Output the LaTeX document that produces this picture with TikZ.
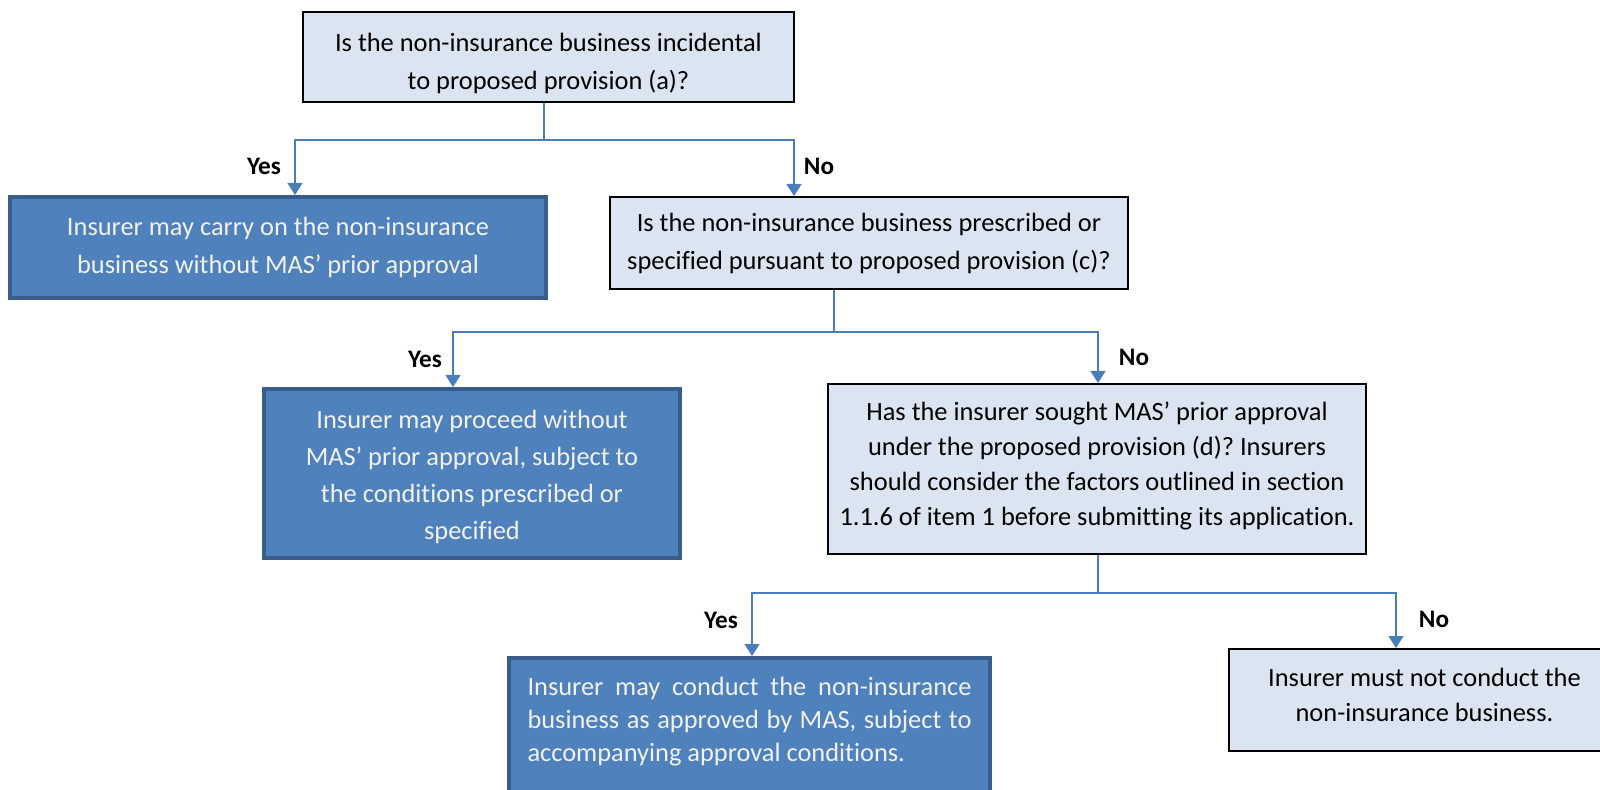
\documentclass[tikz,border=0pt]{standalone}
\usepackage{fontspec}
\setmainfont{Carlito}[Ligatures=NoCommon]
\frenchspacing
\usetikzlibrary{arrows.meta}
\definecolor{qfill}{HTML}{DBE5F1}
\definecolor{ofill}{HTML}{4F81BD}
\definecolor{oline}{HTML}{385D8A}
\definecolor{link}{HTML}{4A7EBB}
\definecolor{otext}{HTML}{F2F2F2}
\tikzset{query/.style={draw=black, line width=1pt, fill=qfill, align=center, inner sep=0pt},
         outcome/.style={draw=oline, line width=2pt, fill=ofill, text=otext, align=center, inner sep=0pt},
         wire/.style={draw=link, line width=0.7pt},
         flow/.style={wire, -{Triangle[width=7.5pt,length=6pt]}},
         answer/.style={font=\fontsize{12.6pt}{15pt}\selectfont\bfseries}}
\newcommand*\boxfont[1]{\fontsize{13.2pt}{#1}\selectfont}
\newcommand*\padtop[1]{\rule{0pt}{#1}}
\newcommand*\padbot[1]{\rule[-#1]{0pt}{#1}}

\begin{document}
\begin{tikzpicture}[x=0.5pt,y=-0.5pt]
        \pgfmathsetmacro{\busa}{140}
        \pgfmathsetmacro{\busb}{332}
        \pgfmathsetmacro{\busc}{593}
        \clip (0,0) rectangle (1600,790);
        %
        \node[query, minimum width=245.5pt, minimum height=45pt, font=\boxfont{19pt}] (qa) at (548.5,57)
            {\padtop{16pt}Is the non-insurance business incidental\\to proposed provision (a)?};
        \node[outcome, minimum width=268pt, minimum height=50.5pt, font=\boxfont{19pt}] (ya) at (278,247.5)
            {Insurer may carry on the non-insurance\\business without MAS’ prior approval};
        \node[query, minimum width=259pt, minimum height=46pt, font=\boxfont{19pt}] (qb) at (869,243)
            {Is the non-insurance business prescribed or\\specified pursuant to proposed provision (c)?};
        \node[outcome, minimum width=208pt, minimum height=84.5pt, font=\boxfont{18.5pt}] (yb) at (472,473.5)
            {\padtop{13pt}Insurer may proceed without\\MAS’ prior approval, subject to\\the conditions prescribed or\\specified};
        \node[query, minimum width=269pt, minimum height=85pt, font=\boxfont{17.4pt}] (qc) at (1097,469)
            {Has the insurer sought MAS’ prior approval\\under the proposed provision (d)? Insurers\\should consider the factors outlined in section\\1.1.6 of item 1 before submitting its application.\padbot{5.3pt}};
        \node[outcome, anchor=north, minimum width=240.5pt, inner xsep=9pt, inner ysep=9.5pt, align=left, font=\boxfont{16.5pt}] (yc) at (749.5,656)
            {\makebox[222pt][s]{Insurer may conduct the non-insurance}\\
             \makebox[222pt][s]{business as approved by MAS, subject to}\\
             accompanying approval conditions.\padbot{14pt}};
        \node[query, minimum width=195.5pt, minimum height=51pt, font=\boxfont{17.3pt}] (nc) at (1424.5,700)
            {Insurer must not conduct the\\non-insurance business.\padbot{5pt}};
        %
        \coordinate (ja) at (544,\busa);
        \coordinate (ja-yes) at (295,\busa);
        \coordinate (ja-no) at (794,\busa);
        \coordinate (jb) at (834,\busb);
        \coordinate (jb-yes) at (453,\busb);
        \coordinate (jb-no) at (1098,\busb);
        \coordinate (jc) at (1098,\busc);
        \coordinate (jc-yes) at (752,\busc);
        \coordinate (jc-no) at (1396,\busc);
        %
        \draw[wire] (qa.south -| ja) -- (ja);
        \draw[flow] (ja) -- (ja-yes) -- (ja-yes |- ya.north);
        \draw[flow] (ja) -- (ja-no) -- (ja-no |- qb.north);
        \draw[wire] (qb.south -| jb) -- (jb);
        \draw[flow] (jb) -- (jb-yes) -- (jb-yes |- yb.north);
        \draw[flow] (jb) -- (jb-no) -- (jb-no |- qc.north);
        \draw[wire] (qc.south -| jc) -- (jc);
        \draw[flow] (jc) -- (jc-yes) -- (jc-yes |- yc.north);
        \draw[flow] (jc) -- (jc-no) -- (jc-no |- nc.north);
        %
        \node[answer] (la-yes) at (264,166) {Yes};
        \node[answer] (la-no) at (819,166) {No};
        \node[answer] (lb-yes) at (425,359) {Yes};
        \node[answer] (lb-no) at (1134,357) {No};
        \node[answer] (lc-yes) at (721,620) {Yes};
        \node[answer] (lc-no) at (1434,619) {No};
    \end{tikzpicture}
\end{document}
